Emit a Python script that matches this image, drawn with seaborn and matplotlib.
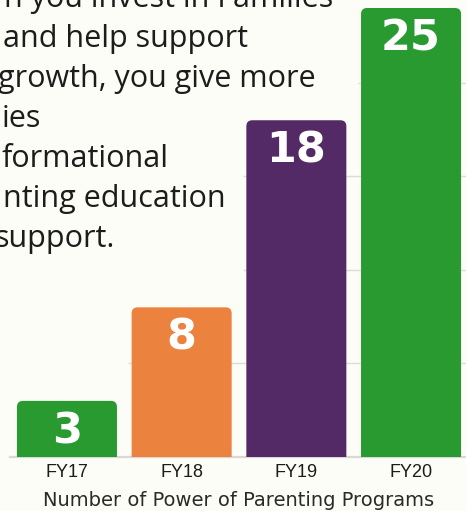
import matplotlib
matplotlib.use("Agg")
import matplotlib.pyplot as plt
import seaborn as sns
import pandas as pd
from matplotlib.patches import FancyBboxPatch

years = ["FY17", "FY18", "FY19", "FY20"]
programs = [3, 8, 18, 25]
bar_colors = ["#299a30", "#eb823e", "#532a66", "#299a30"]
grid_levels = [5, 10, 15, 20]
y_max = 24          # the FY20 bar runs past the top of the chart area
x_title = "Number of Power of Parenting Programs"
# paragraph behind the chart, cut off by the left edge of the image
blurb = [
    "n you invest in Families",
    "and help support",
    "growth, you give more",
    "ies",
    "formational",
    "nting education",
    "support.",
]
blurb_left = [0, 0, 0, 3, 0, 0, -3]
blurb_right = [337, 251, 313, 40, 171, 228, 112]   # px where each line ends
blurb_base = [7, 47, 87, 127, 167, 207, 247]

BG = "#fdfdf7"
W, H = 466, 511
sns.set_theme(style="white")
fig = plt.figure(figsize=(W / 100, H / 100), dpi=100, facecolor=BG)

for line, xl, xr, yb in zip(blurb, blurb_left, blurb_right, blurb_base):
    fig.text((xl + xr) / 2 / W, 1 - yb / H, line, ha="center", va="baseline",
             fontsize=22, family="Open Sans", color="#1c1c1c")

ax = fig.add_axes([9.6 / W, 1 - 457 / H, 458.8 / W, 449 / H])
ax.patch.set_alpha(0)
df = pd.DataFrame({"year": years, "n": programs})
sns.barplot(data=df, x="year", y="n", hue="year", palette=bar_colors,
            legend=False, width=0.872, saturation=1, ax=ax, zorder=3)
ax.set_xlim(-0.5, 3.5)
ax.set_ylim(0, y_max)
ax.tick_params(axis="y", left=False, labelleft=False)
for s in ["left", "right", "top"]:
    ax.spines[s].set_visible(False)
ax.spines["bottom"].set_color("#d8d8d8")
ax.spines["bottom"].set_linewidth(1.6)

# gridlines only show from the first bar tall enough to cross them
bars = list(ax.patches)
for g in grid_levels:
    start = next(p.get_x() for p, v in zip(bars, programs) if v > g)
    ax.hlines(g, start - 0.03, 3.5, color="#dcdcdc", lw=1, zorder=1)

# swap plain bars for ones with rounded tops (clamped to the chart area)
px_x = 458.8 / 4
px_y = 449 / y_max
for p, val in zip(bars, programs):
    x0, w = p.get_x(), p.get_width()
    h = min(p.get_height(), y_max)
    fc = p.get_facecolor()
    p.remove()
    rb = FancyBboxPatch((x0, -1), w, h + 1,
                        boxstyle=f"round,pad=0,rounding_size={6 / px_x}",
                        mutation_aspect=px_x / px_y, fc=fc, ec="none", zorder=3)
    ax.add_patch(rb)
    ax.annotate(str(val), (x0 + w / 2, h), xytext=(0, -22), textcoords="offset points",
                ha="center", va="center", color="white", fontsize=31,
                fontweight="bold", family="DejaVu Sans", zorder=4)

ax.set_xlabel(x_title, fontsize=14, family="DejaVu Sans", color="#2a2a2a", labelpad=7)
ax.set_ylabel("")
ax.tick_params(axis="x", length=0, pad=5)
for t in ax.get_xticklabels():
    t.set_family("Liberation Sans")
    t.set_fontsize(13)
    t.set_color("#1c1c1c")

fig.savefig("out.png", dpi=100, facecolor=BG)
